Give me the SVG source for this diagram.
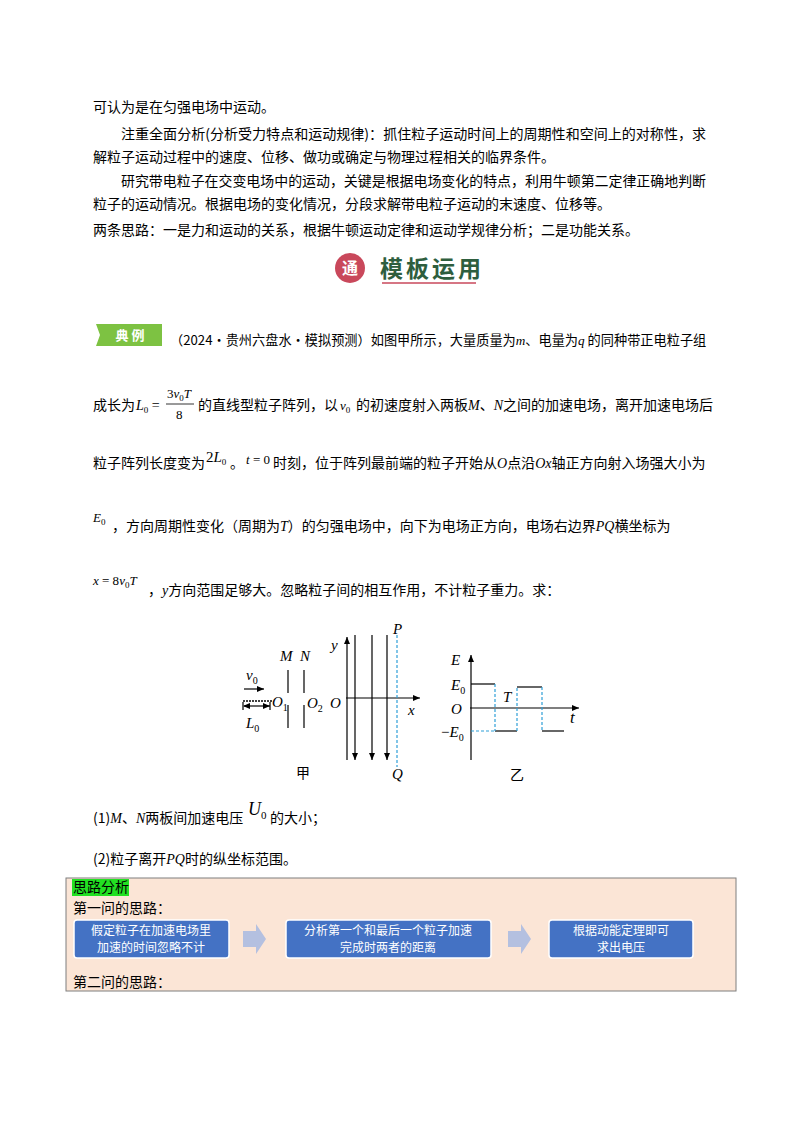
<svg xmlns="http://www.w3.org/2000/svg" width="800" height="1132" viewBox="0 0 800 1132">
<style>
.t{font-family:"Noto Sans CJK SC","Liberation Serif",serif;font-size:14px;fill:#000}
.m{font-family:"Liberation Serif",serif;font-style:italic;fill:#000}
.r{font-family:"Liberation Serif",serif;fill:#000}
.ax{stroke:#000;stroke-width:1.2;fill:none}
.bl{stroke:#2f9fd8;stroke-width:1.2;stroke-dasharray:3 2;fill:none}
.bx{fill:#4472c4;stroke:#fff;stroke-width:1.5}
.bt{font-family:"Noto Sans CJK SC",sans-serif;font-size:12px;fill:#fff;text-anchor:middle}
</style>
<defs>
<marker id="ar" markerWidth="8" markerHeight="8" refX="7" refY="4" orient="auto" markerUnits="userSpaceOnUse"><path d="M0,1 L7,4 L0,7 Z" fill="#000"/></marker>
<marker id="ar2" markerWidth="8" markerHeight="8" refX="1" refY="4" orient="auto" markerUnits="userSpaceOnUse"><path d="M7,1 L0,4 L7,7 Z" fill="#000"/></marker>
</defs>
<rect width="800" height="1132" fill="#fff"/>
<g id="text">
<text class="t" x="93" y="112">可认为是在匀强电场中运动。</text>
<text class="t" x="121" y="139" textLength="585" lengthAdjust="spacingAndGlyphs">注重全面分析(分析受力特点和运动规律)：抓住粒子运动时间上的周期性和空间上的对称性，求</text>
<text class="t" x="93" y="162">解粒子运动过程中的速度、位移、做功或确定与物理过程相关的临界条件。</text>
<text class="t" x="121" y="186" textLength="585" lengthAdjust="spacingAndGlyphs">研究带电粒子在交变电场中的运动，关键是根据电场变化的特点，利用牛顿第二定律正确地判断</text>
<text class="t" x="93" y="209">粒子的运动情况。根据电场的变化情况，分段求解带电粒子运动的末速度、位移等。</text>
<text class="t" x="93" y="235">两条思路：一是力和运动的关系，根据牛顿运动定律和运动学规律分析；二是功能关系。</text>
</g>
<g id="banner">
<circle cx="350" cy="268" r="15" fill="#c9485b"/>
<text x="350" y="274" font-family="Noto Sans CJK SC,sans-serif" font-size="16" font-weight="bold" fill="#fff" text-anchor="middle">通</text>
<text x="380" y="277" font-family="Noto Sans CJK SC,sans-serif" font-size="23" font-weight="bold" fill="#2e5e3e" letter-spacing="3">模板运用</text>
<line x1="382" y1="283" x2="476" y2="283" stroke="#c9485b" stroke-width="1.5"/>
</g>
<g id="example">
<path d="M96,324 H162 V346 H96 L100,335 Z" fill="#7dc242"/>
<text x="130" y="340" font-family="Noto Sans CJK SC,sans-serif" font-size="13" font-weight="bold" fill="#fff" text-anchor="middle">典 例</text>
<text class="t" x="170" y="345" style="font-size:13.2px">（2024·贵州六盘水·模拟预测）如图甲所示，大量质量为<tspan class="m">m</tspan>、电量为<tspan class="m">q</tspan> 的同种带正电粒子组</text>
<text class="t" x="93" y="410">成长为</text>
<text class="m" x="136" y="410" font-size="14">L<tspan font-style="normal" font-size="9" dy="3">0</tspan><tspan font-style="normal" dy="-3"> = </tspan></text>
<text class="m" x="167" y="398" font-size="13"><tspan font-style="normal">3</tspan>v<tspan font-style="normal" font-size="9" dy="3">0</tspan><tspan dy="-3">T</tspan></text>
<line x1="166" y1="404" x2="194" y2="404" stroke="#000" stroke-width="0.8"/>
<text class="r" x="176" y="419" font-size="13">8</text>
<text class="t" x="198" y="410">的直线型粒子阵列，以</text>
<text class="m" x="340" y="410" font-size="13">v<tspan font-style="normal" font-size="9" dy="3">0</tspan></text>
<text class="t" x="356" y="410">的初速度射入两板<tspan class="m">M</tspan>、<tspan class="m">N</tspan>之间的加速电场，离开加速电场后</text>
<text class="t" x="93" y="468">粒子阵列长度变为</text>
<text class="m" x="206" y="462" font-size="15"><tspan font-style="normal">2</tspan>L<tspan font-style="normal" font-size="9" dy="3">0</tspan></text>
<text class="t" x="230" y="468">。</text>
<text class="m" x="246" y="464" font-size="13">t<tspan font-style="normal"> = 0</tspan></text>
<text class="t" x="273" y="468">时刻，位于阵列最前端的粒子开始从<tspan class="m">O</tspan>点沿<tspan class="m">Ox</tspan>轴正方向射入场强大小为</text>
<text class="m" x="93" y="522" font-size="13">E<tspan font-style="normal" font-size="9" dy="3">0</tspan></text>
<text class="t" x="112" y="531">，方向周期性变化（周期为<tspan class="m">T</tspan>）的匀强电场中，向下为电场正方向，电场右边界<tspan class="m">PQ</tspan>横坐标为</text>
<text class="m" x="93" y="585" font-size="13">x<tspan font-style="normal"> = 8</tspan>v<tspan font-style="normal" font-size="9" dy="3">0</tspan><tspan dy="-3">T</tspan></text>
<text class="t" x="148" y="595">，<tspan class="m">y</tspan>方向范围足够大。忽略粒子间的相互作用，不计粒子重力。求：</text>
</g>
<g id="fig-jia">
<line class="ax" x1="347" y1="760" x2="347" y2="637" marker-end="url(#ar)"/>
<line class="ax" x1="346" y1="698" x2="420" y2="698" marker-end="url(#ar)"/>
<line class="ax" x1="355" y1="635" x2="355" y2="760" marker-end="url(#ar)"/>
<line class="ax" x1="372" y1="635" x2="372" y2="760" marker-end="url(#ar)"/>
<line class="ax" x1="387" y1="635" x2="387" y2="760" marker-end="url(#ar)"/>
<line class="bl" x1="397" y1="635" x2="397" y2="767"/>
<line class="ax" x1="288" y1="670" x2="288" y2="693"/>
<line class="ax" x1="288" y1="705" x2="288" y2="728"/>
<line class="ax" x1="304" y1="670" x2="304" y2="693"/>
<line class="ax" x1="304" y1="705" x2="304" y2="728"/>
<line class="ax" x1="244" y1="689" x2="264" y2="689" marker-end="url(#ar)"/>
<line x1="243" y1="701" x2="272" y2="701" stroke="#000" stroke-width="1.5" stroke-dasharray="2 1"/>
<line class="ax" x1="244" y1="706" x2="270" y2="706" marker-start="url(#ar2)" marker-end="url(#ar)"/>
<line class="ax" x1="243" y1="702" x2="243" y2="710"/>
<line class="ax" x1="270" y1="702" x2="270" y2="710"/>
<text class="m" x="393" y="634" font-size="15">P</text>
<text class="m" x="392" y="779" font-size="15">Q</text>
<text class="m" x="408" y="715" font-size="15">x</text>
<text class="m" x="331" y="650" font-size="15">y</text>
<text class="m" x="330" y="708" font-size="15">O</text>
<text class="m" x="280" y="661" font-size="15">M</text>
<text class="m" x="300" y="661" font-size="15">N</text>
<text class="m" x="246" y="680" font-size="15">v<tspan font-style="normal" font-size="10" dy="4">0</tspan></text>
<text class="m" x="246" y="728" font-size="15">L<tspan font-style="normal" font-size="10" dy="4">0</tspan></text>
<text class="m" x="272" y="707" font-size="15">O<tspan font-style="normal" font-size="10" dy="4">1</tspan></text>
<text class="m" x="307" y="708" font-size="15">O<tspan font-style="normal" font-size="10" dy="4">2</tspan></text>
<text x="296" y="778" font-family="Noto Sans CJK SC,sans-serif" font-size="14">甲</text>
</g>
<g id="fig-yi">
<line class="ax" x1="471" y1="760" x2="471" y2="655" marker-end="url(#ar)"/>
<line class="ax" x1="470" y1="708" x2="579" y2="708" marker-end="url(#ar)"/>
<polyline class="ax" points="471,684 495,684"/>
<polyline class="ax" points="495,731 517,731"/>
<polyline class="ax" points="517,687 542,687"/>
<polyline class="ax" points="542,731 564,731"/>
<line class="bl" x1="495" y1="684" x2="495" y2="731"/>
<line class="bl" x1="517" y1="731" x2="517" y2="687"/>
<line class="bl" x1="542" y1="687" x2="542" y2="731"/>
<line class="bl" x1="471" y1="731" x2="495" y2="731"/>
<text class="m" x="451" y="665" font-size="15">E</text>
<text class="m" x="451" y="690" font-size="15">E<tspan font-style="normal" font-size="10" dy="4">0</tspan></text>
<text class="m" x="451" y="714" font-size="15">O</text>
<text class="m" x="441" y="737" font-size="15"><tspan font-style="normal">−</tspan>E<tspan font-style="normal" font-size="10" dy="4">0</tspan></text>
<text class="m" x="503" y="702" font-size="15">T</text>
<text class="m" x="570" y="723" font-size="17">t</text>
<text x="510" y="780" font-family="Noto Sans CJK SC,sans-serif" font-size="14">乙</text>
</g>
<g id="questions">
<text class="t" x="93" y="823">(1)<tspan class="m">M</tspan>、<tspan class="m">N</tspan>两板间加速电压</text>
<text class="m" x="248" y="815" font-size="18">U<tspan font-style="normal" font-size="11" dy="4">0</tspan></text>
<text class="t" x="270" y="823">的大小；</text>
<text class="t" x="93" y="864">(2)粒子离开<tspan class="m">PQ</tspan>时的纵坐标范围。</text>
</g>
<g id="flow">
<rect x="66" y="878" width="670" height="113" fill="#fbe5d6" stroke="#7f7f7f" stroke-width="1"/>
<rect x="72" y="879" width="57" height="17" fill="#22e022"/>
<text class="t" x="73" y="892">思路分析</text>
<text class="t" x="73" y="913">第一问的思路：</text>
<text class="t" x="73" y="987">第二问的思路：</text>
</g>
<g id="box1"><rect class="bx" x="74" y="920" width="155" height="38" rx="3"/><text class="bt" x="151" y="935">假定粒子在加速电场里</text><text class="bt" x="151" y="952">加速的时间忽略不计</text></g>
<g id="box2"><rect class="bx" x="286" y="920" width="205" height="38" rx="3"/><text class="bt" x="388" y="935">分析第一个和最后一个粒子加速</text><text class="bt" x="388" y="952">完成时两者的距离</text></g>
<g id="box3"><rect class="bx" x="549" y="920" width="144" height="38" rx="3"/><text class="bt" x="621" y="935">根据动能定理即可</text><text class="bt" x="621" y="952">求出电压</text></g>
<g id="connectors">
<path d="M243,931 H256 V924 L266,939 L256,954 V947 H243 Z" fill="#b4c0e0"/>
<path d="M508,931 H521 V924 L531,939 L521,954 V947 H508 Z" fill="#b4c0e0"/>
</g>
</svg>
